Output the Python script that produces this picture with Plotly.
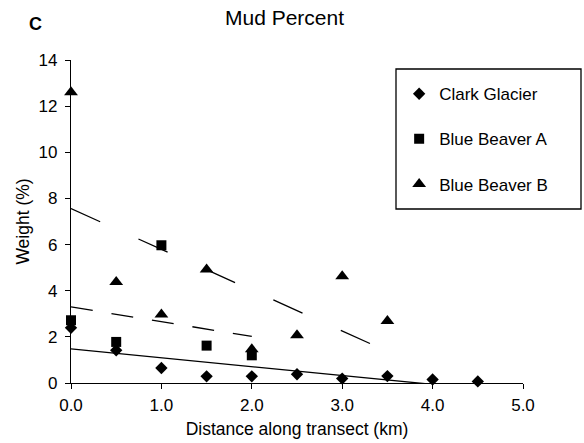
import numpy as np
import plotly.graph_objects as go

# ---- data ----
clark_x = [0.0, 0.5, 1.0, 1.5, 2.0, 2.5, 3.0, 3.5, 4.0, 4.5]
clark_y = [2.39, 1.42, 0.65, 0.29, 0.29, 0.38, 0.19, 0.30, 0.15, 0.07]

bba_x = [0.0, 0.5, 1.0, 1.5, 2.0]
bba_y = [2.72, 1.78, 5.97, 1.62, 1.20]

bbb_x = [0.0, 0.5, 1.0, 1.5, 2.0, 2.5, 3.0, 3.5]
bbb_y = [12.6, 4.38, 2.97, 4.92, 1.46, 2.07, 4.63, 2.69]

x_ticks = [0, 1, 2, 3, 4, 5]
y_ticks = [0, 2, 4, 6, 8, 10, 12, 14]

FONT = "Liberation Sans, Arial, sans-serif"

fig = go.Figure()


def trend(xs, ys):
    m, b = np.polyfit(xs, ys, 1)
    xx = [min(xs), max(xs)]
    return xx, [m * v + b for v in xx]


series = [
    ("Clark Glacier", clark_x, clark_y, "diamond", 9.5, "solid"),
    ("Blue Beaver A", bba_x, bba_y, "square", 10, "22px,19px"),
    ("Blue Beaver B", bbb_x, bbb_y, "triangle-up", 12, "32px,42px"),
]

for i, (name, xs, ys, sym, sz, dash) in enumerate(series):
    tx, ty = trend(xs, ys)
    fig.add_trace(go.Scatter(
        x=tx, y=ty, mode="lines", showlegend=False, hoverinfo="skip",
        line=dict(color="black", width=1.3, dash=dash),
    ))
for i, (name, xs, ys, sym, sz, dash) in enumerate(series):
    fig.add_trace(go.Scatter(
        x=xs, y=ys, mode="markers", name=name, legendgroup=f"g{i}",
        cliponaxis=False,
        marker=dict(symbol=sym, size=sz, color="black"),
    ))

fig.update_layout(
    width=584, height=443,
    margin=dict(l=71, r=61, t=60, b=60, autoexpand=False),
    paper_bgcolor="white", plot_bgcolor="white",
    font=dict(family=FONT, size=17, color="black"),
    showlegend=True,
    legend=dict(
        x=0.726, y=0.95, xanchor="left", yanchor="top",
        bgcolor="rgba(0,0,0,0)", borderwidth=0,
        tracegroupgap=20, font=dict(size=17),
        itemwidth=30,
    ),
    xaxis=dict(
        range=[0, 5], tickvals=x_ticks, tickformat=".1f",
        automargin=False,
        showline=True, linecolor="black", linewidth=1.3,
        ticks="outside", ticklen=5, tickwidth=1.3, tickcolor="black",
        ticklabelstandoff=1,
        showgrid=False, zeroline=False,
        title=dict(text="Distance along transect (km)", standoff=9,
                   font=dict(size=17.5)),
    ),
    yaxis=dict(
        range=[0, 14], tickvals=y_ticks,
        automargin=False,
        showline=True, linecolor="black", linewidth=1.3,
        ticks="outside", ticklen=5, tickwidth=1.3, tickcolor="black",
        ticklabelstandoff=4,
        showgrid=False, zeroline=False,
        title=dict(text="Weight (%)", standoff=4, font=dict(size=17.5)),
    ),
    shapes=[dict(
        type="rect", xref="paper", yref="paper",
        x0=(396 - 71) / 452, x1=(581 - 71) / 452,
        y0=(383 - 209) / 323, y1=(383 - 69) / 323,
        line=dict(color="black", width=1.3), fillcolor="rgba(0,0,0,0)",
    )],
    annotations=[
        dict(text="Mud Percent", xref="paper", yref="paper",
             x=(284.5 - 71) / 452, y=1 + (60 - 17) / 323,
             xanchor="center", yanchor="middle", showarrow=False,
             font=dict(size=21)),
        dict(text="<b>C</b>", xref="paper", yref="paper",
             x=(35 - 71) / 452, y=1 + (60 - 24) / 323,
             xanchor="center", yanchor="middle", showarrow=False,
             font=dict(size=18)),
    ],
)

fig.write_html("out.html")
